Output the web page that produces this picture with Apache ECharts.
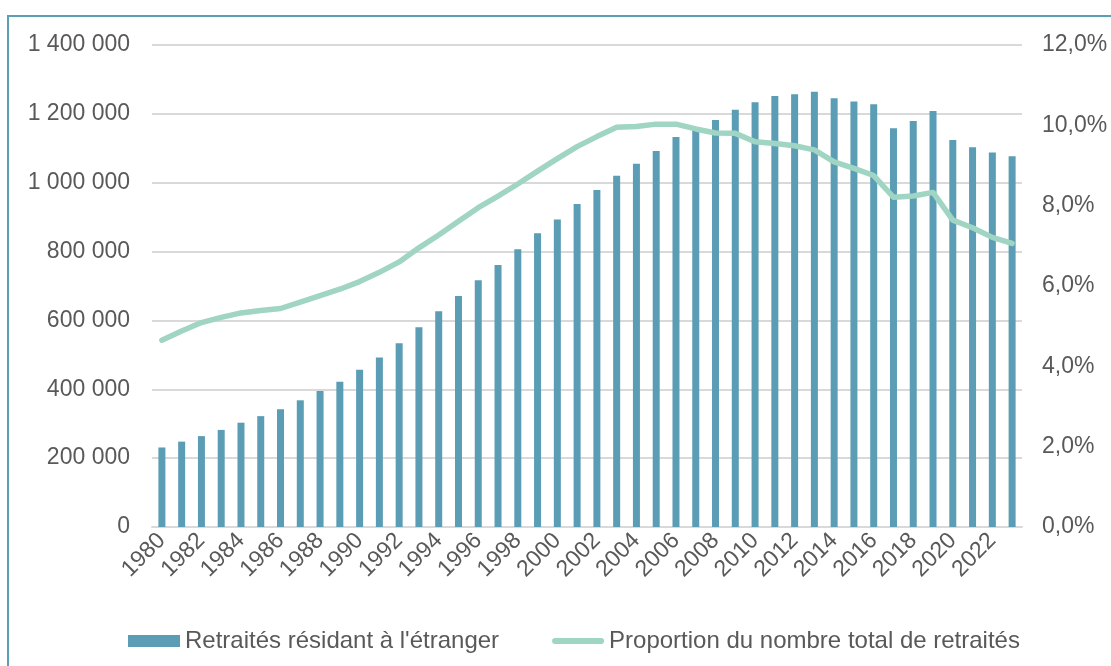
<!DOCTYPE html>
<html>
<head>
<meta charset="utf-8">
<title>Retraités résidant à l'étranger</title>
<script src="https://cdn.jsdelivr.net/npm/echarts@6/dist/echarts.min.js"></script>
<style>
    html, body { margin: 0; padding: 0; overflow: hidden; background: #fff; }
    #frame {
        position: absolute; left: 7px; top: 15px;
        width: 1300px; height: 900px;
        border-left: 2px solid #5b9eb6; border-top: 2px solid #5b9eb6;
    }
    #chart { position: absolute; left: 0; top: 0; width: 1111px; height: 666px; }
</style>
</head>
<body>
<div id="frame"></div>
<div id="chart"></div>
<script>
(function(echarts){
    "use strict";

    // annees (axe X)
    var years = ['1980','1981','1982','1983','1984','1985','1986','1987','1988','1989',
        '1990','1991','1992','1993','1994','1995','1996','1997','1998','1999',
        '2000','2001','2002','2003','2004','2005','2006','2007','2008','2009',
        '2010','2011','2012','2013','2014','2015','2016','2017','2018','2019',
        '2020','2021','2022','2023'];

    // nombre de retraites residant a l'etranger (barres, axe gauche)
    var retraites = [231000, 248000, 264000, 282000, 303000, 322000, 342000, 368000, 395000, 422000,
        457000, 492000, 534000, 580000, 627000, 671000, 717000, 761000, 807000, 853000,
        893000, 938000, 979000, 1020000, 1055000, 1092000, 1133000, 1160000, 1182000, 1212000,
        1234000, 1252000, 1257000, 1264000, 1245000, 1236000, 1228000, 1158000, 1179000, 1208000,
        1124000, 1103000, 1088000, 1077000];

    // proportion du nombre total de retraites, en % (courbe, axe droit)
    var proportion = [4.65, 4.88, 5.09, 5.22, 5.33, 5.39, 5.44, 5.60, 5.76, 5.92,
        6.11, 6.34, 6.60, 6.95, 7.27, 7.61, 7.95, 8.24, 8.54, 8.86,
        9.17, 9.47, 9.72, 9.95, 9.97, 10.03, 10.03, 9.91, 9.81, 9.80,
        9.59, 9.55, 9.49, 9.39, 9.09, 8.93, 8.75, 8.21, 8.24, 8.33,
        7.64, 7.45, 7.21, 7.06];

    var seriesNames = ["Retraités résidant à l'étranger", 'Proportion du nombre total de retraités'];

    var textColor = '#595959';
    var font = "'Liberation Sans', Arial, sans-serif";
    var fontSize = 23;

    var myChart = echarts.init(document.getElementById('chart'));

    var option = {
        animation: false,
        textStyle: { fontFamily: font },
        grid: { left: 152, right: 89, top: 45, bottom: 139 },
        legend: {
            left: 123,
            top: 624,
            itemWidth: 52,
            itemHeight: 12,
            itemGap: 53,
            textStyle: { color: textColor, fontSize: 24, fontFamily: font },
            data: [
                { name: seriesNames[0], icon: 'rect' },
                //trait arrondi, sans le rond du symbole
                { name: seriesNames[1], icon: 'path://M3,0 H51 A3,3 0 0 1 51,6 H3 A3,3 0 0 1 3,0 Z' }
            ]
        },
        xAxis: {
            type: 'category',
            data: years,
            axisTick: { show: false },
            axisLine: { lineStyle: { color: '#d9d9d9', width: 2 } },
            axisLabel: {
                interval: 1,
                rotate: 45,
                margin: 10,
                color: textColor,
                fontSize: fontSize,
                fontFamily: font
            }
        },
        yAxis: [{
            type: 'value',
            min: 0,
            max: 1400000,
            interval: 200000,
            axisLine: { show: false },
            axisTick: { show: false },
            splitLine: { lineStyle: { color: '#d9d9d9', width: 2 } },
            axisLabel: {
                margin: 22,
                color: textColor,
                fontSize: fontSize,
                fontFamily: font,
                formatter: function(v){
                    //separateur de milliers : espace
                    return String(v).replace(/\B(?=(\d{3})+(?!\d))/g, ' ');
                }
            }
        }, {
            type: 'value',
            min: 0,
            max: 12,
            interval: 2,
            axisLine: { show: false },
            axisTick: { show: false },
            splitLine: { show: false },
            axisLabel: {
                margin: 20,
                color: textColor,
                fontSize: fontSize,
                fontFamily: font,
                formatter: function(v){
                    return v.toFixed(1).replace('.', ',') + '%';
                }
            }
        }],
        series: [{
            name: seriesNames[0],
            type: 'bar',
            data: retraites,
            barWidth: 7,
            itemStyle: { color: '#5b9db5' }
        }, {
            name: seriesNames[1],
            type: 'line',
            yAxisIndex: 1,
            data: proportion,
            symbol: 'none',
            itemStyle: { color: '#9fd5c2' },
            lineStyle: { color: '#9fd5c2', width: 5.5, cap: 'round', join: 'round' }
        }]
    };

    myChart.setOption(option);

})(echarts);
</script>
</body>
</html>
